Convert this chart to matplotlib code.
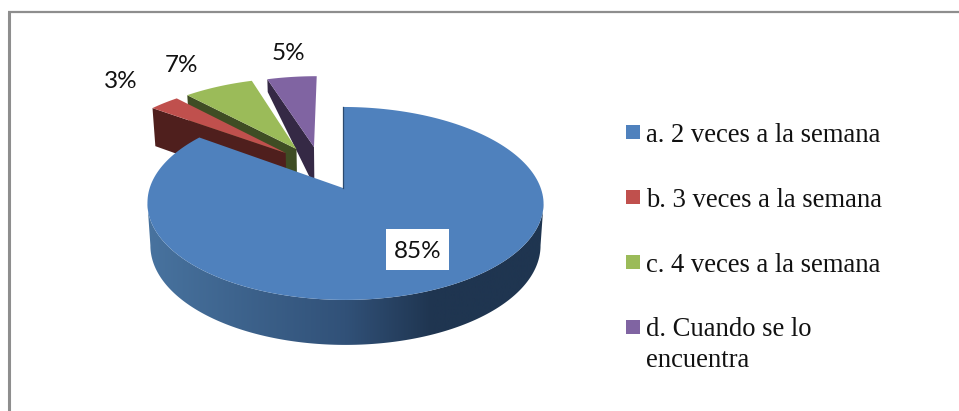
import numpy as np
import matplotlib
matplotlib.use("Agg")
import matplotlib.pyplot as plt
from matplotlib.patches import Polygon, Rectangle

categories = ["a. 2 veces a la semana", "b. 3 veces a la semana",
              "c. 4 veces a la semana", "d. Cuando se lo\nencuentra"]
values = [85, 3, 7, 5]
value_labels = ["85%", "3%", "7%", "5%"]

top_colors = ["#4f81bd", "#c0504d", "#9bbb59", "#8064a2"]
cut_colors = ["#1f3550", "#4f1f1d", "#3f4d24", "#352945"]

# slice offsets on the pie plane, and how much of the cut face shows at the rim
offsets = [(0, 0), (-0.319, 0.396), (-0.2615, 0.444), (-0.166, 0.469)]
rim_depth = [1, 1, 1, 0.35]

# where the flat labels sit
label_pos = [(418, 251), (121, 81), (181, 65), (288, 54)]
legend_y = [132, 197, 262, 327]

CX, CY = 343, 188
RX, RY = 195.5, 94
PERSP = 0.16


def project(u, v, z=0.0):
    # pie plane to pixels, z=1 is the underside of the pie
    w = 1 + PERSP * v
    x = RX * u / w + np.clip(2.2 * (1 - v), 0, 2.5)
    y = RY * v / w
    depth = 41.5 - 3.5 * v
    return CX + x * (1 - 0.015 * z), CY - y + depth * z


def slice_rim(start, end, off):
    # angles are clockwise from 12 o'clock
    t = np.radians(np.linspace(start, end, 200))
    return off[0] + np.sin(t), off[1] + np.cos(t)


fig = plt.figure(figsize=(9.59, 4.11), dpi=100)
ax = fig.add_axes([0, 0, 1, 1])
ax.set_xlim(0, 959)
ax.set_ylim(411, 0)
ax.axis("off")

# frame, only top and left were kept
ax.plot([8.5, 8.5], [411, 12], color="#8e8e8e", lw=2.2, solid_capstyle="butt")
ax.plot([7.5, 959], [12, 12], color="#8e8e8e", lw=1.6, solid_capstyle="butt")

edges = np.cumsum([0] + values) * 3.6

# the small slices go back to front, the big one last
for i in [3, 2, 1]:
    start, end = edges[i], edges[i + 1]
    off = offsets[i]
    u, v = slice_rim(start, end, off)
    # cut face running from the apex out to the far left corner
    far_top = project(u[0], v[0])
    far_low = project(u[0], v[0], rim_depth[i])
    apex_top = project(off[0], off[1])
    apex_low = project(off[0], off[1], 1)
    ax.add_patch(Polygon([far_top, far_low, apex_low, apex_top],
                         facecolor=cut_colors[i], edgecolor="none", zorder=2 + (3 - i)))
    px, py = project(u, v)
    outline = np.column_stack([np.r_[apex_top[0], px], np.r_[apex_top[1], py]])
    ax.add_patch(Polygon(outline, facecolor=top_colors[i], edgecolor="none", zorder=2 + (3 - i)))

# outer wall of the big slice with its left to right shading
turn = np.arctan2(1, -PERSP)
t = np.linspace(turn, 2 * np.pi - turn, 400)
wu, wv = np.sin(t), np.cos(t)
tx, ty = project(wu, wv)
bx, by = project(wu, wv, 1)
wall = Polygon(np.column_stack([np.r_[tx, bx[::-1]], np.r_[ty, by[::-1]]]),
               facecolor="none", edgecolor="none", transform=ax.transData)
ax.add_patch(wall)
shade = matplotlib.colors.LinearSegmentedColormap.from_list(
    "wall", [(0, "#48739f"), (0.5, "#315178"), (0.72, "#1f3550"), (1, "#1f3550")])
img = ax.imshow(np.linspace(0, 1, 256)[None, :], cmap=shade, aspect="auto",
                extent=(147, 544, 411, 0), zorder=5)
img.set_clip_path(wall)
ax.set_xlim(0, 959)
ax.set_ylim(411, 0)

# top of the big slice
u, v = slice_rim(edges[0], edges[1], offsets[0])
px, py = project(u, v)
ax.add_patch(Polygon(np.column_stack([np.r_[CX, px], np.r_[CY, py]]),
                     facecolor=top_colors[0], edgecolor="none", zorder=6))
ax.plot([px[0], CX], [py[0], CY], color="#2c4a6e", lw=0.9, zorder=7)

# value labels, the big slice gets a white box
for i, txt in enumerate(value_labels):
    ax.text(label_pos[i][0], label_pos[i][1], txt, family="Lato", fontsize=17.5,
            color="#111111", ha="center", va="center", zorder=9)
ax.add_patch(Rectangle((386, 229), 63, 41, facecolor="white", edgecolor="none", zorder=8))

# legend
for i, name in enumerate(categories):
    ax.add_patch(Rectangle((626, legend_y[i] - 7), 14, 14, facecolor=top_colors[i],
                           edgecolor="none", zorder=3))
    # a multi line baseline refers to the last line
    ax.text(646, legend_y[i] + 10 + 30 * name.count("\n"), name, family="Liberation Serif",
            fontsize=19.2, color="#111111", ha="left", va="baseline", linespacing=1.3)

fig.savefig("out.png", dpi=100)
